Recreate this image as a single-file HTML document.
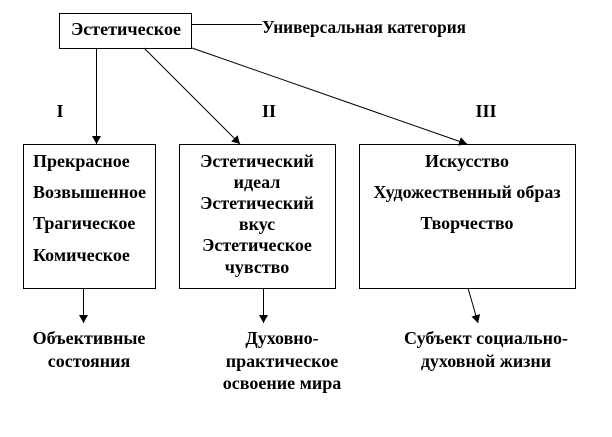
<!DOCTYPE html>
<html><head><meta charset="utf-8"><style>
body{margin:0;background:#fff;width:612px;height:432px;overflow:hidden}
svg text{font-family:"Liberation Serif",serif;font-weight:bold;font-size:18px;fill:#000}
</style></head><body>
<svg width="612" height="432" viewBox="0 0 612 432">
<defs><marker id="a" markerWidth="8" markerHeight="9" refX="8" refY="4.5" orient="auto" markerUnits="userSpaceOnUse"><path d="M0,0 L8,4.5 L0,9 z" fill="#000"/></marker></defs>
<g fill="none" stroke="#000" stroke-width="1">
<rect x="59.5" y="13.5" width="132" height="35"/>
<rect x="23.5" y="144.5" width="132" height="144"/>
<rect x="179.5" y="144.5" width="156" height="144"/>
<rect x="359.5" y="144.5" width="216" height="144"/>
<line x1="192" y1="24.5" x2="262" y2="24.5"/>
<line x1="96.5" y1="48" x2="96.5" y2="144" marker-end="url(#a)"/>
<line x1="144" y1="48" x2="240" y2="144" marker-end="url(#a)"/>
<line x1="192" y1="48" x2="467" y2="144" marker-end="url(#a)"/>
<line x1="83.5" y1="288" x2="83.5" y2="323" marker-end="url(#a)"/>
<line x1="263.5" y1="288" x2="263.5" y2="323" marker-end="url(#a)"/>
<line x1="468" y1="288" x2="478" y2="323" marker-end="url(#a)"/>
</g>
<text x="71" y="35" textLength="110" lengthAdjust="spacingAndGlyphs">Эстетическое</text>
<text x="262" y="33" textLength="204" lengthAdjust="spacingAndGlyphs">Универсальная категория</text>
<text x="60" y="117" text-anchor="middle">I</text>
<text x="269" y="117" text-anchor="middle">II</text>
<text x="486" y="117" text-anchor="middle">III</text>
<g>
<text x="33" y="167">Прекрасное</text>
<text x="33" y="198">Возвышенное</text>
<text x="33" y="229">Трагическое</text>
<text x="33" y="261">Комическое</text>
</g>
<g text-anchor="middle">
<text x="257" y="167">Эстетический</text>
<text x="257" y="188">идеал</text>
<text x="257" y="209">Эстетический</text>
<text x="257" y="230">вкус</text>
<text x="257" y="251">Эстетическое</text>
<text x="257" y="273">чувство</text>
<text x="467" y="167">Искусство</text>
<text x="467" y="198">Художественный образ</text>
<text x="467" y="229">Творчество</text>
<text x="89" y="344">Объективные</text>
<text x="89" y="367">состояния</text>
<text x="282" y="344">Духовно-</text>
<text x="282" y="367">практическое</text>
<text x="282" y="389">освоение мира</text>
<text x="486" y="344">Субъект социально-</text>
<text x="486" y="367">духовной жизни</text>
</g>
</svg>
</body></html>
